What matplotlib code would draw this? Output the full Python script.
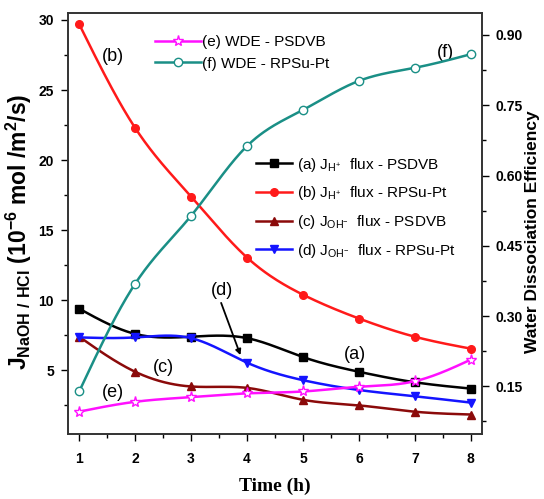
import numpy as np
import matplotlib
matplotlib.use("Agg")
import matplotlib.pyplot as plt
from matplotlib.ticker import MultipleLocator

plt.rcParams['font.family'] = ['Liberation Sans', 'DejaVu Sans']
plt.rcParams['mathtext.fontset'] = 'custom'
plt.rcParams['mathtext.rm'] = 'Liberation Sans'
plt.rcParams['mathtext.bf'] = 'Liberation Sans:bold'

# 时间 (h)
time_h = [1, 2, 3, 4, 5, 6, 7, 8]

# 通量 (10^-6 mol/m^2/s)
flux_h_psdvb = [9.4, 7.6, 7.4, 7.3, 5.95, 4.9, 4.15, 3.7]
flux_h_rpsu = [29.7, 22.3, 17.4, 13.05, 10.4, 8.7, 7.4, 6.55]
flux_oh_psdvb = [7.4, 4.9, 3.85, 3.75, 2.9, 2.5, 2.05, 1.85]
flux_oh_rpsu = [7.35, 7.35, 7.3, 5.55, 4.3, 3.6, 3.15, 2.7]

# 水解离效率
wde_psdvb = [0.096, 0.117, 0.127, 0.135, 0.139, 0.149, 0.161, 0.207]
wde_rpsu = [0.139, 0.369, 0.514, 0.663, 0.740, 0.802, 0.830, 0.859]


def spline(x, y, n=300):
    # 自然三次样条，仅用于画平滑连线
    x = np.asarray(x, float)
    y = np.asarray(y, float)
    m = len(x)
    h = np.diff(x)
    A = np.zeros((m, m))
    b = np.zeros(m)
    A[0, 0] = A[-1, -1] = 1
    for i in range(1, m - 1):
        A[i, i - 1] = h[i - 1]
        A[i, i] = 2 * (h[i - 1] + h[i])
        A[i, i + 1] = h[i]
        b[i] = 6 * ((y[i + 1] - y[i]) / h[i] - (y[i] - y[i - 1]) / h[i - 1])
    M = np.linalg.solve(A, b)
    xs = np.linspace(x[0], x[-1], n)
    idx = np.clip(np.searchsorted(x, xs) - 1, 0, m - 2)
    x0, x1 = x[idx], x[idx + 1]
    hh = x1 - x0
    t0, t1 = x1 - xs, xs - x0
    ys = (M[idx] * t0 ** 3 + M[idx + 1] * t1 ** 3) / (6 * hh) \
        + (y[idx] / hh - M[idx] * hh / 6) * t0 \
        + (y[idx + 1] / hh - M[idx + 1] * hh / 6) * t1
    return xs, ys


def draw(ax, x, y, color, marker, label, mfc=None, ms=5.5):
    xs, ys = spline(x, y)
    ax.plot(xs, ys, color=color, lw=1.8)
    ax.plot(x, y, ls='none', marker=marker, color=color, ms=ms,
            mfc=mfc if mfc else color, mec=color, mew=1.0)
    # 图例用的代理句柄
    h, = ax.plot([], [], color=color, lw=1.8, marker=marker, ms=ms,
                 mfc=mfc if mfc else color, mec=color, label=label)
    return h


fig = plt.figure(figsize=(5.44, 4.99), dpi=100)
ax = fig.add_axes([0.125, 0.130, 0.761, 0.844])
ax2 = ax.twinx()

ha = draw(ax, time_h, flux_h_psdvb, 'black', 's', r'(a) J$_{\mathregular{H^{+}}}$  flux - PSDVB')
hb = draw(ax, time_h, flux_h_rpsu, '#ff1a1a', 'o', r'(b) J$_{\mathregular{H^{+}}}$  flux - RPSu-Pt')
hc = draw(ax, time_h, flux_oh_psdvb, '#8b0a0a', '^', r'(c) J$_{\mathregular{OH^{-}}}$  flux - PSDVB')
hd = draw(ax, time_h, flux_oh_rpsu, '#1414ff', 'v', r'(d) J$_{\mathregular{OH^{-}}}$  flux - RPSu-Pt')

he = draw(ax2, time_h, wde_psdvb, '#ff10ff', '*', '(e) WDE - PSDVB', mfc='white', ms=8)
hf = draw(ax2, time_h, wde_rpsu, '#1a8f86', 'o', '(f) WDE - RPSu-Pt', mfc='white', ms=6)

ax.set_xlim(0.8, 8.2)
ax.set_ylim(0.45, 30.5)
ax2.set_ylim(0.048, 0.947)

ax.xaxis.set_major_locator(MultipleLocator(1))
ax.xaxis.set_minor_locator(MultipleLocator(0.5))
ax.yaxis.set_major_locator(MultipleLocator(5))
ax.yaxis.set_minor_locator(MultipleLocator(2.5))
ax2.yaxis.set_major_locator(MultipleLocator(0.15))
ax2.yaxis.set_minor_locator(MultipleLocator(0.075))
ax2.yaxis.set_major_formatter(plt.FormatStrFormatter('%.2f'))

for a in (ax, ax2):
    a.tick_params(which='major', direction='out', length=5, width=1, labelsize=10, pad=5)
    a.tick_params(which='minor', direction='out', length=3, width=1)
    for lab in a.get_xticklabels() + a.get_yticklabels():
        lab.set_fontweight('bold')
    for s in a.spines.values():
        s.set_linewidth(1.2)
        s.set_color('#333333')
ax.tick_params(axis='x', pad=8)

ax.set_xlabel('Time (h)', family='Liberation Serif', fontweight='bold', fontsize=14)
ax.xaxis.set_label_coords(0.5, -0.103)
ax.set_ylabel(r'$\mathbf{J}_{\mathbf{NaOH\ /\ HCl}}$ (10$^{\mathbf{-6}}$ mol /m$^{\mathbf{2}}$/s)',
              fontweight='bold', fontsize=16.5)
ax.yaxis.set_label_coords(-0.083, 0.48)
ax2.set_ylabel('Water Dissociation Efficiency', fontweight='bold', fontsize=12.5)
ax2.yaxis.set_label_coords(1.103, 0.48)

# 曲线标注
ax.text(1.6, 27.4, '(b)', fontsize=13, ha='center', va='center')
ax.text(7.55, 27.7, '(f)', fontsize=13, ha='center', va='center')
ax.text(5.93, 6.1, '(a)', fontsize=13, ha='center', va='center')
ax.text(2.5, 5.2, '(c)', fontsize=13, ha='center', va='center')
ax.text(1.6, 3.4, '(e)', fontsize=13, ha='center', va='center')
ax.text(3.55, 10.7, '(d)', fontsize=13, ha='center', va='center')
ax.annotate('', xy=(3.9, 5.9), xytext=(3.52, 10.0),
            arrowprops=dict(arrowstyle='-|>', color='black', lw=1.3, mutation_scale=8))

leg1 = ax2.legend(handles=[he, hf], loc='upper left', bbox_to_anchor=(0.285, 0.93),
                  bbox_transform=fig.transFigure, frameon=False, fontsize=11,
                  handlelength=3.0, handletextpad=0.1, labelspacing=0.5,
                  borderpad=0, borderaxespad=0, numpoints=1)
leg2 = ax2.legend(handles=[ha, hb, hc, hd], loc='upper left', bbox_to_anchor=(0.47, 0.688),
                  bbox_transform=fig.transFigure, frameon=False, fontsize=11,
                  handlelength=2.4, handletextpad=0.3, labelspacing=0.7,
                  borderpad=0, borderaxespad=0, numpoints=1)
ax2.add_artist(leg1)

fig.savefig('out.png', dpi=100)
